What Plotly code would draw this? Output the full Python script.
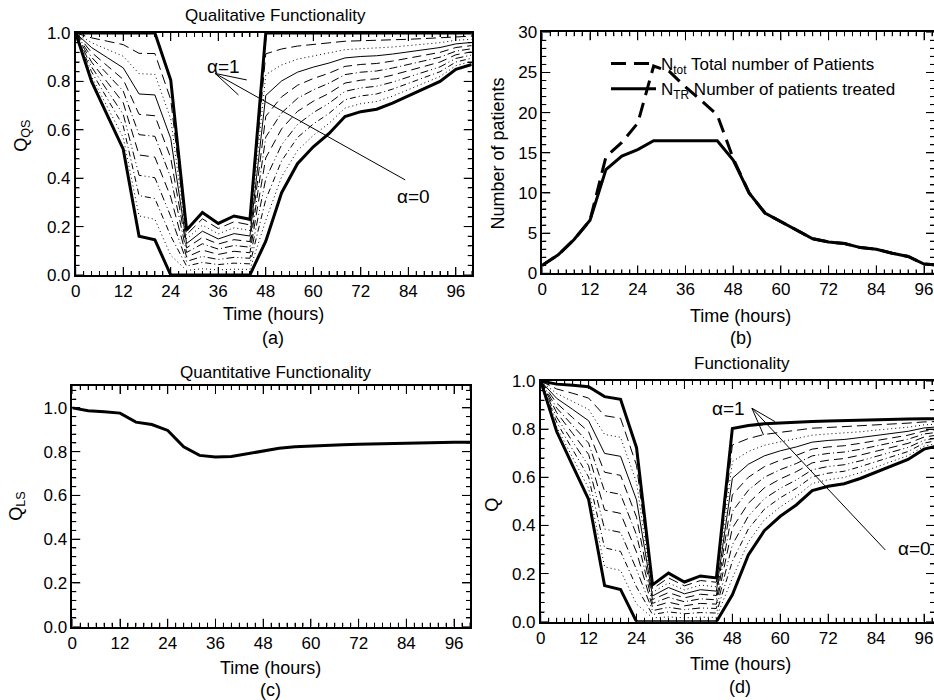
import plotly.graph_objects as go

W, H = 934, 700

# ---------------- data ----------------
hours = [0, 4, 8, 12, 16, 20, 24, 28, 32, 36, 40, 44, 48, 52, 56, 60, 64, 68, 72, 76, 80, 84, 88, 92, 96, 100]

# Panel (a): Qualitative functionality Q_QS for alpha = 1.0 ... 0.0
qqs_a10 = [1, 1, 1, 1, 1, 1, 0.806, 0.186, 0.258, 0.213, 0.244, 0.23, 1, 1, 1, 1, 1, 1, 1, 1, 1, 1, 1, 1, 1, 1]
qqs_a09 = [1, 0.98, 0.966, 0.952, 0.916, 0.915, 0.725, 0.167, 0.232, 0.192, 0.220, 0.207, 0.914, 0.934, 0.946, 0.953, 0.959, 0.966, 0.968, 0.969, 0.971, 0.974, 0.977, 0.98, 0.985, 0.987]
qqs_a08 = [1, 0.96, 0.932, 0.904, 0.832, 0.829, 0.645, 0.149, 0.206, 0.170, 0.195, 0.184, 0.828, 0.868, 0.892, 0.906, 0.917, 0.931, 0.935, 0.937, 0.942, 0.948, 0.954, 0.96, 0.97, 0.974]
qqs_a07 = [1, 0.94, 0.898, 0.856, 0.748, 0.744, 0.564, 0.130, 0.181, 0.149, 0.171, 0.161, 0.742, 0.802, 0.838, 0.859, 0.876, 0.897, 0.903, 0.906, 0.913, 0.922, 0.931, 0.94, 0.955, 0.961]
qqs_a06 = [1, 0.92, 0.864, 0.808, 0.664, 0.658, 0.484, 0.112, 0.155, 0.128, 0.146, 0.138, 0.656, 0.736, 0.784, 0.812, 0.834, 0.862, 0.87, 0.874, 0.884, 0.896, 0.908, 0.92, 0.94, 0.948]
qqs_a05 = [1, 0.90, 0.83, 0.76, 0.58, 0.573, 0.403, 0.093, 0.129, 0.107, 0.122, 0.115, 0.57, 0.67, 0.73, 0.765, 0.793, 0.828, 0.838, 0.843, 0.855, 0.87, 0.885, 0.90, 0.925, 0.935]
qqs_a04 = [1, 0.88, 0.796, 0.712, 0.496, 0.487, 0.322, 0.074, 0.103, 0.085, 0.098, 0.092, 0.484, 0.604, 0.676, 0.718, 0.751, 0.793, 0.805, 0.811, 0.826, 0.844, 0.862, 0.88, 0.91, 0.922]
qqs_a03 = [1, 0.86, 0.762, 0.664, 0.412, 0.402, 0.242, 0.056, 0.077, 0.064, 0.073, 0.069, 0.398, 0.538, 0.622, 0.671, 0.71, 0.759, 0.773, 0.78, 0.797, 0.818, 0.839, 0.86, 0.895, 0.909]
qqs_a02 = [1, 0.84, 0.728, 0.616, 0.328, 0.316, 0.161, 0.037, 0.052, 0.043, 0.049, 0.046, 0.312, 0.472, 0.568, 0.624, 0.668, 0.724, 0.74, 0.748, 0.768, 0.792, 0.816, 0.84, 0.88, 0.896]
qqs_a01 = [1, 0.82, 0.694, 0.568, 0.244, 0.23, 0.081, 0.019, 0.026, 0.021, 0.024, 0.023, 0.226, 0.406, 0.514, 0.577, 0.627, 0.69, 0.708, 0.717, 0.739, 0.766, 0.793, 0.82, 0.865, 0.883]
qqs_a00 = [1, 0.80, 0.66, 0.52, 0.16, 0.145, 0, 0, 0, 0, 0, 0, 0.14, 0.34, 0.46, 0.53, 0.585, 0.655, 0.675, 0.685, 0.71, 0.74, 0.77, 0.80, 0.85, 0.87]

# Panel (b): number of patients
n_tot = [1.0, 2.3, 4.2, 6.6, 14.5, 16.3, 18.7, 25.8, 25.1, 23.2, 21.5, 19.7, 14.3, 10.0, 7.5, 6.4, 5.3, 4.3, 3.9, 3.7, 3.2, 3.0, 2.5, 2.1, 1.15, 1.0]
n_tr = [1.0, 2.3, 4.2, 6.6, 12.9, 14.6, 15.4, 16.5, 16.5, 16.5, 16.5, 16.5, 14.1, 10.0, 7.5, 6.4, 5.3, 4.3, 3.9, 3.7, 3.2, 3.0, 2.5, 2.1, 1.15, 1.0]

# Panel (c): quantitative functionality Q_LS
qls = [1.0, 0.987, 0.982, 0.976, 0.935, 0.924, 0.897, 0.822, 0.783, 0.776, 0.778, 0.79, 0.803, 0.815, 0.822, 0.826, 0.829, 0.832, 0.834, 0.836, 0.838, 0.84, 0.841, 0.842, 0.843, 0.843]

# Panel (d): functionality Q for alpha = 1.0 ... 0.0
q_a10 = [1.0, 0.987, 0.982, 0.976, 0.935, 0.924, 0.723, 0.153, 0.202, 0.165, 0.190, 0.182, 0.803, 0.815, 0.822, 0.826, 0.829, 0.832, 0.834, 0.836, 0.838, 0.840, 0.841, 0.842, 0.843, 0.843]
q_a09 = [1.0, 0.967, 0.949, 0.929, 0.856, 0.845, 0.650, 0.137, 0.182, 0.149, 0.171, 0.164, 0.734, 0.761, 0.778, 0.787, 0.795, 0.804, 0.807, 0.810, 0.814, 0.818, 0.822, 0.825, 0.830, 0.832]
q_a08 = [1.0, 0.948, 0.915, 0.882, 0.778, 0.766, 0.579, 0.122, 0.161, 0.132, 0.152, 0.145, 0.665, 0.707, 0.733, 0.748, 0.760, 0.775, 0.780, 0.783, 0.789, 0.796, 0.802, 0.808, 0.818, 0.821]
q_a07 = [1.0, 0.928, 0.882, 0.835, 0.699, 0.687, 0.506, 0.107, 0.142, 0.116, 0.133, 0.127, 0.596, 0.654, 0.689, 0.710, 0.726, 0.746, 0.753, 0.757, 0.765, 0.774, 0.783, 0.791, 0.805, 0.810]
q_a06 = [1.0, 0.908, 0.848, 0.789, 0.621, 0.608, 0.434, 0.092, 0.121, 0.099, 0.114, 0.109, 0.527, 0.600, 0.644, 0.671, 0.691, 0.717, 0.726, 0.731, 0.741, 0.753, 0.764, 0.775, 0.792, 0.799]
q_a05 = [1.0, 0.888, 0.815, 0.742, 0.542, 0.529, 0.361, 0.076, 0.101, 0.083, 0.095, 0.091, 0.458, 0.546, 0.600, 0.632, 0.657, 0.689, 0.699, 0.705, 0.716, 0.731, 0.744, 0.758, 0.780, 0.788]
q_a04 = [1.0, 0.869, 0.782, 0.695, 0.464, 0.450, 0.289, 0.061, 0.081, 0.066, 0.076, 0.073, 0.389, 0.492, 0.556, 0.593, 0.623, 0.660, 0.671, 0.678, 0.692, 0.709, 0.725, 0.741, 0.767, 0.777]
q_a03 = [1.0, 0.849, 0.748, 0.648, 0.385, 0.371, 0.217, 0.046, 0.060, 0.050, 0.057, 0.055, 0.320, 0.438, 0.511, 0.554, 0.589, 0.631, 0.645, 0.652, 0.668, 0.687, 0.706, 0.724, 0.754, 0.766]
q_a02 = [1.0, 0.829, 0.715, 0.601, 0.307, 0.292, 0.144, 0.030, 0.041, 0.033, 0.038, 0.036, 0.251, 0.385, 0.467, 0.515, 0.554, 0.602, 0.617, 0.625, 0.644, 0.665, 0.686, 0.707, 0.742, 0.755]
q_a01 = [1.0, 0.809, 0.682, 0.554, 0.228, 0.213, 0.073, 0.016, 0.020, 0.016, 0.019, 0.018, 0.181, 0.331, 0.423, 0.477, 0.520, 0.574, 0.590, 0.599, 0.619, 0.643, 0.667, 0.690, 0.729, 0.744]
q_a00 = [1.0, 0.790, 0.648, 0.508, 0.150, 0.134, 0.0, 0.0, 0.0, 0.0, 0.0, 0.0, 0.112, 0.277, 0.378, 0.438, 0.485, 0.545, 0.563, 0.573, 0.595, 0.622, 0.648, 0.674, 0.717, 0.733]

qqs_curves = [qqs_a09, qqs_a08, qqs_a07, qqs_a06, qqs_a05, qqs_a04, qqs_a03, qqs_a02, qqs_a01]
q_curves = [q_a09, q_a08, q_a07, q_a06, q_a05, q_a04, q_a03, q_a02, q_a01]

# ---------------- styling ----------------
FONT = "Liberation Sans, Arial, sans-serif"
thin_dash = ["10px,5px", "1px,3px", "solid", "9px,5px", "8px,3px,1px,3px",
             "9px,5px", "8px,3px,1px,3px,1px,3px", "6px,3px,1px,3px", "1px,3px"]


def px(x):
    return x / W


def py(y):
    return 1 - y / H


fig = go.Figure()


def add_family(curves, top, bottom, xa, ya):
    for c, d in zip(curves, thin_dash):
        fig.add_trace(go.Scatter(x=hours, y=c, mode="lines", xaxis=xa, yaxis=ya,
                                 line=dict(color="black", width=1, dash=d),
                                 showlegend=False, hoverinfo="skip"))
    for c in (top, bottom):
        fig.add_trace(go.Scatter(x=hours, y=c, mode="lines", xaxis=xa, yaxis=ya,
                                 line=dict(color="black", width=3),
                                 showlegend=False, hoverinfo="skip"))


add_family(qqs_curves, qqs_a10, qqs_a00, "x", "y")
add_family(q_curves, q_a10, q_a00, "x4", "y4")

fig.add_trace(go.Scatter(x=hours, y=n_tot, mode="lines", xaxis="x2", yaxis="y2",
                         line=dict(color="black", width=3, dash="15px,8px"),
                         name="N<sub>tot</sub> Total number of Patients"))
fig.add_trace(go.Scatter(x=hours, y=n_tr, mode="lines", xaxis="x2", yaxis="y2",
                         line=dict(color="black", width=3),
                         name="N<sub>TR</sub> Number of patients treated"))

fig.add_trace(go.Scatter(x=hours, y=qls, mode="lines", xaxis="x3", yaxis="y3",
                         line=dict(color="black", width=3), showlegend=False))


# inward tick marks on all four sides of a frame, built from the axis tick steps
def frame_ticks(xa, ya, xr, yr, wpx, hpx, xstep, xmajor, ystep, ymajor, ny):
    kx = (xr[1] - xr[0]) / wpx
    ky = (yr[1] - yr[0]) / hpx
    xs, ys = [], []
    k = 0
    while k * xstep <= xr[1] + 1e-9:
        t = k * xstep
        L = 8 if k % xmajor == 0 else 4
        xs += [t, t, None, t, t, None]
        ys += [yr[0], yr[0] + L * ky, None, yr[1], yr[1] - L * ky, None]
        k += 1
    for k in range(ny + 1):
        v = k * ystep
        if v > yr[1] + 1e-9:
            break
        L = 8 if k % ymajor == 0 else 4
        xs += [xr[0], xr[0] + L * kx, None, xr[1], xr[1] - L * kx, None]
        ys += [v, v, None, v, v, None]
    fig.add_trace(go.Scatter(x=xs, y=ys, mode="lines", xaxis=xa, yaxis=ya,
                             line=dict(color="black", width=1),
                             showlegend=False, hoverinfo="skip"))


frame_ticks("x", "y", [0, 100], [0, 1], 396, 242, 2, 6, 0.04, 5, 25)
frame_ticks("x2", "y2", [0, 98.5], [0, 30], 391.7, 241, 2, 6, 1, 5, 30)
frame_ticks("x3", "y3", [0, 100], [0, 1.1], 397.7, 240.7, 2, 6, 0.04, 5, 27)
frame_ticks("x4", "y4", [0, 98.5], [0, 1], 393.3, 240.7, 2, 6, 0.04, 5, 25)

base = dict(showline=True, linecolor="black", linewidth=1.5, showgrid=False, zeroline=False,
            ticks="inside", ticklen=8, tickcolor="black", mirror="allticks",
            tickfont=dict(family=FONT, size=17, color="black"))


def xax(x0, x1, rng, anchor):
    return dict(base, domain=[px(x0), min(1.0, px(x1))], range=rng, anchor=anchor,
                dtick=12, minor=dict(ticks="inside", dtick=2, ticklen=4, tickcolor="black"))


def yax(y0, y1, rng, dtick, mdt, fmt, anchor):
    return dict(base, domain=[py(y1), py(y0)], range=rng, anchor=anchor,
                dtick=dtick, tickformat=fmt,
                minor=dict(ticks="inside", dtick=mdt, ticklen=4, tickcolor="black"))


annotations = []


def note(text, x, y, size=18, angle=0):
    annotations.append(dict(text=text, x=px(x), y=py(y), xref="paper", yref="paper",
                            showarrow=False, xanchor="center", yanchor="middle",
                            textangle=angle, font=dict(family=FONT, size=size, color="black")))


note("Qualitative Functionality", 275.5, 15, 17)
note("Quantitative Functionality", 275, 372, 17)
note("Functionality", 741.7, 363, 17)
note("Time (hours)", 273, 314)
note("(a)", 273, 338)
note("Time (hours)", 740.8, 316)
note("(b)", 740.8, 338)
note("Time (hours)", 270.8, 668)
note("(c)", 270.8, 690)
note("Time (hours)", 740, 664)
note("(d)", 740, 687)
note("Q<sub>QS</sub>", 21.7, 136, 18, -90)
note("Number of patients", 498.3, 153.3, 18, -90)
note("Q<sub>LS</sub>", 16.7, 506, 18, -90)
note("Q", 491.7, 505, 18, -90)

# alpha labels (data coordinates)
for txt, x, y, xr, yr in [("α=1", 37.3, 0.861, "x", "y"), ("α=0", 85.3, 0.324, "x", "y"),
                          ("α=1", 47.0, 0.887, "x4", "y4"), ("α=0", 93.5, 0.306, "x4", "y4")]:
    annotations.append(dict(text=txt, x=x, y=y, xref=xr, yref=yr, showarrow=False,
                            xanchor="center", yanchor="middle",
                            font=dict(family=FONT, size=19, color="black")))

shapes = []
for (x0, y0, x1, y1, xr, yr) in [
    (35.2, 0.833, 43.2, 0.806, "x", "y"),
    (35.2, 0.833, 41.1, 0.744, "x", "y"),
    (35.2, 0.833, 83.2, 0.393, "x", "y"),
    (52.9, 0.887, 58.7, 0.831, "x4", "y4"),
    (52.9, 0.887, 55.8, 0.776, "x4", "y4"),
    (52.9, 0.887, 86.3, 0.298, "x4", "y4"),
]:
    shapes.append(dict(type="line", x0=x0, y0=y0, x1=x1, y1=y1, xref=xr, yref=yr,
                       line=dict(color="black", width=1)))

fig.update_layout(
    template="none",
    width=W, height=H, autosize=False,
    margin=dict(l=0, r=0, t=0, b=0, autoexpand=False),
    paper_bgcolor="white", plot_bgcolor="white",
    font=dict(family=FONT, color="black"),
    xaxis=xax(75.7, 471.7, [0, 100], "y"),
    yaxis=yax(33, 275, [0, 1], 0.2, 0.04, ".1f", "x"),
    xaxis2=xax(542.3, 934, [0, 98.5], "y2"),
    yaxis2=yax(32.3, 273.3, [0, 30], 5, 1, "d", "x2"),
    xaxis3=xax(72.3, 470, [0, 100], "y3"),
    yaxis3=yax(386, 626.7, [0, 1.1], 0.2, 0.04, ".1f", "x3"),
    xaxis4=xax(540.7, 934, [0, 98.5], "y4"),
    yaxis4=yax(381, 621.7, [0, 1], 0.2, 0.04, ".1f", "x4"),
    showlegend=True,
    legend=dict(x=px(606), y=py(46), itemwidth=45, bgcolor="rgba(0,0,0,0)",
                font=dict(family=FONT, size=17, color="black")),
    annotations=annotations,
    shapes=shapes,
)

html = fig.to_html(full_html=False, include_plotlyjs=True, config={"displayModeBar": False})
page = ('<html><head><meta charset="utf-8"><style>html,body{margin:0;padding:0;overflow:hidden;}</style>'
        '</head><body>' + html + '</body></html>')
with open("out.html", "w", encoding="utf-8") as f:
    f.write(page)
